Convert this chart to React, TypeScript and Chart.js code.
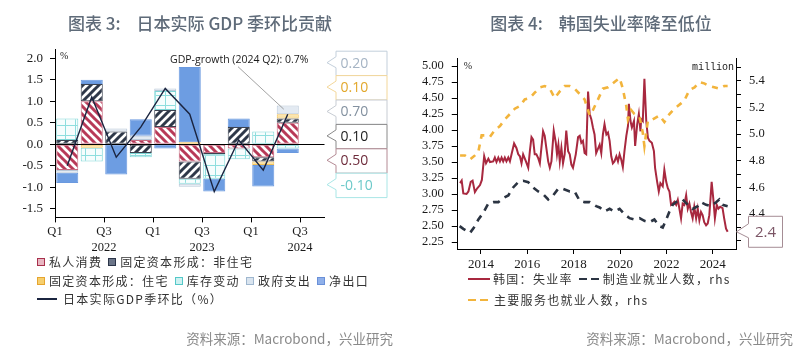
import React, { useEffect, useRef } from "react";
import { Chart, registerables } from "chart.js";
Chart.register(...registerables);

// ---------------- Left chart: Japan real GDP q/q contributions ----------------
const quarterLabels = ["2022Q1", "2022Q2", "2022Q3", "2022Q4", "2023Q1", "2023Q2", "2023Q3", "2023Q4", "2024Q1", "2024Q2"];
const privateConsumption = [-0.6, 1.0, 0, 0.1, 0.4, -0.4, -0.2, -0.1, -0.3, 0.5];
const nonResidentialInv = [0.1, 0.4, 0.3, -0.2, 0.4, -0.4, -0.03, 0.4, -0.1, 0.1];
const residentialInv = [0, -0.08, 0, 0, 0, 0.05, 0, 0, -0.08, 0.1];
const inventoryChange = [0.5, -0.32, 0, -0.1, 0.44, -0.12, -0.57, -0.25, 0.3, -0.1];
const governmentSpending = [-0.06, 0, 0.07, 0.1, 0.06, -0.07, 0, 0, 0, 0.2];
const netExports = [-0.24, 0.1, -0.7, 0.38, -0.1, 1.75, -0.3, 0.2, -0.5, -0.1];
const gdpGrowth = [-0.5, 1.1, -0.3, 0.4, 1.3, 0.7, -1.1, 0.1, -0.6, 0.7];

const leftXTickValues = [0, 2, 4, 6, 8, 10];
const leftXLabels: (string | string[])[] = ["Q1", ["Q3", "2022"], "Q1", ["Q3", "2023"], "Q1", ["Q3", "2024"]];
const leftYTicks = [-1.5, -1.0, -0.5, 0, 0.5, 1.0, 1.5, 2.0];
const calloutTexts = ["0.20", "0.10", "0.70", "0.10", "0.50", "-0.10"];
const annotationText = "GDP-growth (2024 Q2): 0.7%";
const leftLegendRow1 = ["私人消费", "固定资本形成：非住宅"];
const leftLegendRow2 = ["固定资本形成：住宅", "库存变动", "政府支出", "净出口"];
const gdpLegendLabel = "日本实际GDP季环比（%）";

// ---------------- Right chart: Korea unemployment ----------------
const unempDates = [
  2013.10, 2013.17, 2013.24, 2013.38, 2013.46, 2013.56, 2013.64, 2013.74, 2013.84, 2013.96,
  2014.04, 2014.14, 2014.22, 2014.32, 2014.39, 2014.53, 2014.60, 2014.67, 2014.75, 2014.82,
  2014.89, 2014.96, 2015.03, 2015.10, 2015.18, 2015.25, 2015.32, 2015.43, 2015.53, 2015.61,
  2015.68, 2015.75, 2015.82, 2015.94, 2016.04, 2016.11, 2016.18, 2016.25, 2016.32, 2016.39,
  2016.47, 2016.54, 2016.68, 2016.75, 2016.82, 2016.90, 2016.97, 2017.04, 2017.14, 2017.23,
  2017.28, 2017.34, 2017.40, 2017.47, 2017.54, 2017.61, 2017.68, 2017.76, 2017.83, 2017.90,
  2017.97, 2018.09, 2018.19, 2018.26, 2018.33, 2018.40, 2018.47, 2018.54, 2018.62, 2018.69,
  2018.76, 2018.83, 2018.90, 2018.97, 2019.12, 2019.19, 2019.26, 2019.33, 2019.41, 2019.48,
  2019.55, 2019.62, 2019.69, 2019.76, 2019.84, 2019.91, 2019.98, 2020.05, 2020.12, 2020.19,
  2020.27, 2020.34, 2020.38, 2020.45, 2020.51, 2020.60, 2020.65, 2020.74, 2020.81, 2020.88,
  2020.91, 2020.98, 2021.05, 2021.13, 2021.20, 2021.27, 2021.37, 2021.46, 2021.51, 2021.60,
  2021.67, 2021.74, 2021.84, 2021.91, 2021.99, 2022.06, 2022.13, 2022.20, 2022.27, 2022.34,
  2022.42, 2022.49, 2022.56, 2022.63, 2022.70, 2022.77, 2022.85, 2022.92, 2022.99, 2023.06,
  2023.13, 2023.20, 2023.28, 2023.35, 2023.42, 2023.49, 2023.56, 2023.63, 2023.71, 2023.78,
  2023.85, 2023.95, 2024.02, 2024.09, 2024.17, 2024.24, 2024.32, 2024.42, 2024.49, 2024.57,
  2024.64,
];
const unempRate = [
  3.17, 3.21, 3.01, 3.00, 3.04, 3.19, 3.21, 3.03, 3.09, 3.14,
  3.22, 3.59, 3.48, 3.55, 3.50, 3.51, 3.57, 3.50, 3.57, 3.51,
  3.57, 3.51, 3.57, 3.51, 3.57, 3.51, 3.62, 3.79, 3.72, 3.62,
  3.59, 3.48, 3.62, 3.51, 3.41, 3.67, 3.89, 3.85, 3.62, 3.62,
  3.56, 3.48, 3.98, 3.91, 3.72, 3.51, 3.41, 3.51, 3.99, 3.80,
  3.62, 3.77, 3.51, 3.72, 3.48, 3.62, 3.99, 3.67, 3.62, 3.46,
  3.41, 3.62, 3.89, 3.91, 3.80, 3.83, 3.64, 3.62, 4.60, 4.25,
  4.17, 4.04, 3.93, 3.64, 3.77, 3.64, 3.93, 4.09, 3.93, 3.96,
  3.83, 3.59, 3.48, 3.51, 3.59, 3.51, 3.62, 3.54, 3.42, 3.67,
  3.91, 4.06, 4.41, 4.14, 4.04, 4.14, 3.75, 4.09, 4.25, 3.98,
  4.17, 4.14, 4.80, 4.14, 3.88, 3.83, 3.80, 3.67, 3.41, 3.19,
  3.04, 3.17, 3.12, 3.38, 3.19, 3.09, 3.04, 2.83, 2.85, 2.88,
  2.83, 2.91, 2.77, 2.62, 2.85, 2.83, 2.98, 2.77, 2.85, 2.72,
  2.62, 2.80, 2.62, 2.77, 2.59, 2.72, 2.67, 2.56, 2.51, 2.54,
  2.67, 3.19, 2.93, 2.62, 2.83, 2.77, 2.80, 2.78, 2.62, 2.46,
  2.41,
];
const mfgDates = [
  2013.08, 2013.24, 2013.53, 2013.74, 2013.89, 2014.10, 2014.32, 2014.53, 2014.75, 2014.96,
  2015.18, 2015.39, 2015.61, 2015.82, 2016.04, 2016.25, 2016.47, 2016.68, 2016.90, 2017.11,
  2017.33, 2017.54, 2017.83, 2018.04, 2018.26, 2018.47, 2018.69, 2018.97, 2019.12, 2019.33,
  2019.55, 2019.76, 2019.98, 2020.19, 2020.41, 2020.62, 2020.84, 2021.05, 2021.27, 2021.48,
  2021.70, 2021.84, 2021.99, 2022.13, 2022.27, 2022.49, 2022.70, 2022.92, 2023.13, 2023.35,
  2023.49, 2023.71, 2023.92, 2024.14, 2024.28, 2024.42, 2024.64,
];
const mfgEmployment = [
  4.31, 4.29, 4.26, 4.31, 4.36, 4.41, 4.48, 4.49, 4.49, 4.52,
  4.54, 4.60, 4.64, 4.65, 4.64, 4.60, 4.57, 4.55, 4.51, 4.54,
  4.59, 4.59, 4.57, 4.57, 4.50, 4.49, 4.49, 4.46, 4.45, 4.42,
  4.44, 4.42, 4.44, 4.40, 4.37, 4.36, 4.37, 4.35, 4.34, 4.36,
  4.31, 4.30, 4.36, 4.42, 4.47, 4.50, 4.51, 4.47, 4.44, 4.46,
  4.49, 4.47, 4.46, 4.49, 4.51, 4.47, 4.46,
];
const svcDates = [
  2013.10, 2013.31, 2013.53, 2013.74, 2013.89, 2014.03, 2014.24, 2014.39, 2014.60, 2014.82,
  2015.03, 2015.25, 2015.46, 2015.68, 2015.89, 2016.11, 2016.32, 2016.54, 2016.75, 2016.97,
  2017.18, 2017.40, 2017.61, 2017.83, 2018.04, 2018.26, 2018.47, 2018.69, 2018.83, 2019.05,
  2019.26, 2019.48, 2019.76, 2019.98, 2020.12, 2020.27, 2020.34, 2020.48, 2020.62, 2020.84,
  2020.98, 2021.05, 2021.20, 2021.41, 2021.70, 2021.91, 2022.13, 2022.34, 2022.63, 2022.77,
  2022.99, 2023.21, 2023.42, 2023.63, 2023.85, 2024.06, 2024.28, 2024.49, 2024.64,
];
const svcEmployment = [
  4.84, 4.84, 4.81, 4.84, 4.87, 4.99, 4.99, 4.98, 5.03, 5.06,
  5.11, 5.15, 5.19, 5.21, 5.26, 5.27, 5.31, 5.35, 5.36, 5.34,
  5.27, 5.32, 5.36, 5.36, 5.34, 5.30, 5.26, 5.14, 5.18, 5.26,
  5.34, 5.35, 5.39, 5.42, 5.34, 5.21, 5.11, 5.18, 5.15, 5.13,
  5.01, 4.91, 5.10, 5.11, 5.14, 5.09, 5.15, 5.19, 5.23, 5.25,
  5.33, 5.35, 5.39, 5.38, 5.36, 5.35, 5.34, 5.36, 5.36,
];
const yearTicks = [2014, 2016, 2018, 2020, 2022, 2024];
const leftAxisTicks = [2.25, 2.5, 2.75, 3.0, 3.25, 3.5, 3.75, 4.0, 4.25, 4.5, 4.75, 5.0];
const rightAxisTicks = [4.2, 4.3, 4.4, 4.5, 4.6, 4.7, 4.8, 4.9, 5.0, 5.1, 5.2, 5.3, 5.4, 5.5];
const unempLabel = "韩国：失业率";
const mfgLabel = "制造业就业人数，rhs";
const svcLabel = "主要服务也就业人数，rhs";

const sourceText = "资料来源：Macrobond，兴业研究";

const SERIF = '"Liberation Serif", "Times New Roman", serif';
const CJK = '"Noto Sans CJK SC", "Noto Sans", sans-serif';

function stripePattern(dir: "back" | "fwd", color: string, size: number, width: number) {
  const c = document.createElement("canvas");
  c.width = size;
  c.height = size;
  const g = c.getContext("2d")!;
  g.fillStyle = "#ffffff";
  g.fillRect(0, 0, size, size);
  g.strokeStyle = color;
  g.lineWidth = width;
  g.beginPath();
  for (const k of [-size, 0, size]) {
    if (dir === "back") {
      g.moveTo(k - 1, -1);
      g.lineTo(k + size + 1, size + 1);
    } else {
      g.moveTo(k - 1, size + 1);
      g.lineTo(k + size + 1, -1);
    }
  }
  g.stroke();
  return g.createPattern(c, "repeat")!;
}

function gridPattern(color: string, bg: string, size: number) {
  const c = document.createElement("canvas");
  c.width = size;
  c.height = size;
  const g = c.getContext("2d")!;
  g.fillStyle = bg;
  g.fillRect(0, 0, size, size);
  g.fillStyle = color;
  g.fillRect(Math.floor(size / 2), 0, 1, size);
  g.fillRect(0, Math.floor(size / 2), size, 1);
  return g.createPattern(c, "repeat")!;
}

function calloutPath(ctx: CanvasRenderingContext2D, x: number, y: number, w: number, h: number, tipX: number, tipY: number, nTop: number, nBot: number) {
  ctx.beginPath();
  ctx.moveTo(x, y);
  ctx.lineTo(x + w, y);
  ctx.lineTo(x + w, y + h);
  ctx.lineTo(x, y + h);
  ctx.lineTo(x, nBot);
  ctx.lineTo(tipX, tipY);
  ctx.lineTo(x, nTop);
  ctx.closePath();
}

const calloutStroke = ["#c3cfdb", "#f3d79a", "#c7ccd3", "#8a8a8a", "#b48a94", "#a9e6e6"];
const calloutColor = ["#a5b4c4", "#e2a82c", "#8391a0", "#1e1e1e", "#6e2c3c", "#6cc9c9"];

const leftDecor = {
  id: "leftDecor",
  beforeDatasetDraw(chart: any, args: any) {
    if (args.index !== 0) return;
    const { ctx, chartArea: a, scales } = chart;
    const y0 = Math.round(scales.y.getPixelForValue(0)) + 0.5;
    ctx.save();
    ctx.strokeStyle = "#000";
    ctx.lineWidth = 1.2;
    ctx.beginPath();
    ctx.moveTo(a.left, y0);
    ctx.lineTo(a.right, y0);
    ctx.stroke();
    ctx.restore();
  },
  afterDraw(chart: any) {
    const { ctx, chartArea: a, scales } = chart;
    ctx.save();
    ctx.fillStyle = "#222";
    ctx.font = `10px ${SERIF}`;
    ctx.textAlign = "left";
    ctx.textBaseline = "middle";
    ctx.fillText("%", a.left + 5, a.top + 7);

    // annotation
    const last = gdpGrowth.length - 1;
    const px = scales.x.getPixelForValue(last + 0.5);
    const py = scales.y.getPixelForValue(gdpGrowth[last]);
    ctx.font = `10.5px "Open Sans", "Liberation Sans", sans-serif`;
    ctx.fillStyle = "#1a1a1a";
    ctx.fillText(annotationText, 170, a.top + 10.5);
    ctx.strokeStyle = "#8a8a8a";
    ctx.lineWidth = 0.8;
    ctx.beginPath();
    ctx.moveTo(238, a.top + 17);
    ctx.lineTo(px - 4, py - 5);
    ctx.stroke();

    // callouts on the right
    const bx = a.right + 11;
    const bw = 51;
    const bh = 24.4;
    const top0 = a.top + 1;
    ctx.font = `14px "Open Sans", "Liberation Sans", sans-serif`;
    calloutTexts.forEach((t, i) => {
      const y = top0 + i * bh;
      ctx.fillStyle = "#fff";
      ctx.strokeStyle = calloutStroke[i];
      ctx.lineWidth = 1;
      calloutPath(ctx, bx + 0.5, y + 0.5, bw, bh, a.right + 2.5, y + 12, y + 6, y + 17);
      ctx.fill();
      ctx.stroke();
      ctx.fillStyle = calloutColor[i];
      ctx.textAlign = "left";
      ctx.fillText(t, bx + 5, y + 13);
    });
    ctx.restore();
  },
};

const rightDecor = {
  id: "rightDecor",
  afterDraw(chart: any) {
    const { ctx, chartArea: a, scales } = chart;
    ctx.save();
    ctx.fillStyle = "#222";
    ctx.textBaseline = "middle";
    ctx.font = `10px ${SERIF}`;
    ctx.textAlign = "left";
    ctx.fillText("%", a.left + 6, a.top + 8);
    ctx.font = `10px "Liberation Mono", "DejaVu Sans Mono", monospace`;
    ctx.textAlign = "right";
    ctx.fillText("million", a.right - 2, scales.y1.getPixelForValue(5.5));

    const lastVal = unempRate[unempRate.length - 1];
    const ty = scales.y.getPixelForValue(lastVal);
    const x0 = a.right + 12;
    ctx.fillStyle = "#fff";
    ctx.strokeStyle = "#a58d95";
    ctx.lineWidth = 1;
    calloutPath(ctx, x0 + 0.5, ty - 15.5, 34, 31, a.right + 0.5, ty, ty - 8, ty + 6);
    ctx.fill();
    ctx.stroke();
    ctx.fillStyle = "#7b5565";
    ctx.font = `15px "Open Sans", "Liberation Sans", sans-serif`;
    ctx.textAlign = "center";
    ctx.fillText(lastVal.toFixed(1), x0 + 17.5, ty + 1);
    ctx.restore();
  },
};

function LegendBox({ border, fill }: { border: string; fill: string }) {
  return (
    <span
      style={{
        display: "inline-block",
        width: 6,
        height: 6,
        border: `1.5px solid ${border}`,
        background: fill,
        marginRight: 4,
        verticalAlign: "middle",
      }}
    />
  );
}

const leftLegendRow1Style = [
  { border: "#a8304c", fill: "#e8b7c2" },
  { border: "#2a3448", fill: "#6b7588" },
];
const leftLegendRow2Style = [
  { border: "#e6a52f", fill: "#f6cf6e" },
  { border: "#54c8c8", fill: "#cdf1f1" },
  { border: "#9fb7cf", fill: "#d9e4ef" },
  { border: "#6a90d8", fill: "#8fb0ea" },
];

export default function App() {
  const leftRef = useRef<HTMLCanvasElement>(null);
  const rightRef = useRef<HTMLCanvasElement>(null);

  useEffect(() => {
    const privPat = stripePattern("back", "#b83a58", 8, 3);
    const nonresPat = stripePattern("fwd", "#2e3849", 8, 3);
    const invPat = gridPattern("#8edede", "#f6fdfd", 10);

    const toPts = (arr: number[]) => arr.map((v, i) => ({ x: i + 0.5, y: v === 0 ? null : v }));
    const barCommon = {
      type: "bar" as const,
      stack: "s",
      order: 1,
      borderWidth: 1,
      borderSkipped: false,
      barPercentage: 0.9,
      categoryPercentage: 1,
    };

    const left = new Chart(leftRef.current!, {
      type: "bar",
      data: {
        datasets: [
          {
            type: "line",
            label: "GDP",
            data: gdpGrowth.map((v, i) => ({ x: i + 0.5, y: v })),
            borderColor: "#1b2540",
            borderWidth: 1.4,
            pointRadius: 0,
            tension: 0,
            order: 0,
          } as any,
          { ...barCommon, label: "私人消费", data: toPts(privateConsumption), backgroundColor: privPat, borderColor: "#c46a80" },
          { ...barCommon, label: "非住宅", data: toPts(nonResidentialInv), backgroundColor: nonresPat, borderColor: "#3b4250" },
          { ...barCommon, label: "住宅", data: toPts(residentialInv), backgroundColor: "#fbe3a6", borderColor: "#f2c25a" },
          { ...barCommon, label: "库存变动", data: toPts(inventoryChange), backgroundColor: invPat, borderColor: "#7fd6d6" },
          { ...barCommon, label: "政府支出", data: toPts(governmentSpending), backgroundColor: "#e3eaf2", borderColor: "#b9c8d8" },
          { ...barCommon, label: "净出口", data: toPts(netExports), backgroundColor: "#6d9de2", borderColor: "#6a99df" },
        ] as any,
      },
      options: {
        responsive: false,
        animation: false,
        events: [],
        layout: { padding: { left: 0, right: 75.5, top: 49.7, bottom: 0 } },
        plugins: { legend: { display: false }, tooltip: { enabled: false } },
        scales: {
          x: {
            type: "linear",
            min: 0,
            max: 11,
            offset: false,
            stacked: true,
            afterBuildTicks: (s: any) => {
              s.ticks = leftXTickValues.map((v) => ({ value: v }));
            },
            afterFit: (s: any) => {
              s.height = 357 - 217.4;
            },
            grid: { display: true, offset: false, drawOnChartArea: false, drawTicks: true, tickLength: 5, color: "#000", tickColor: "#000" },
            border: { display: true, color: "#000", width: 1 },
            ticks: {
              autoSkip: false,
              maxRotation: 0,
              padding: 1,
              color: "#1a1a1a",
              font: { family: SERIF, size: 12.5, lineHeight: 1.3 },
              callback: (v: any) => {
                const i = leftXTickValues.indexOf(Number(v));
                return i >= 0 ? leftXLabels[i] : "";
              },
            },
          } as any,
          y: {
            type: "linear",
            min: -1.7,
            max: 2.2,
            stacked: true,
            afterBuildTicks: (s: any) => {
              s.ticks = leftYTicks.map((v) => ({ value: v }));
            },
            afterFit: (s: any) => {
              s.width = 55;
            },
            grid: { drawOnChartArea: false, tickLength: 5, color: "#000", tickColor: "#000" },
            border: { display: true, color: "#000", width: 1 },
            ticks: {
              autoSkip: false,
              padding: 7,
              color: "#1a1a1a",
              font: { family: SERIF, size: 13 },
              callback: (v: any) => Number(v).toFixed(1),
            },
          } as any,
        },
      },
      plugins: [leftDecor],
    });

    const right = new Chart(rightRef.current!, {
      type: "line",
      data: {
        datasets: [
          {
            label: svcLabel,
            data: svcDates.map((d, i) => ({ x: d, y: svcEmployment[i] })),
            yAxisID: "y1",
            borderColor: "#f2b43c",
            borderWidth: 2.6,
            borderDash: [6, 6],
            pointRadius: 0,
            tension: 0,
          },
          {
            label: mfgLabel,
            data: mfgDates.map((d, i) => ({ x: d, y: mfgEmployment[i] })),
            yAxisID: "y1",
            borderColor: "#2b3442",
            borderWidth: 2.6,
            borderDash: [7, 6],
            pointRadius: 0,
            tension: 0,
          },
          {
            label: unempLabel,
            data: unempDates.map((d, i) => ({ x: d, y: unempRate[i] })),
            yAxisID: "y",
            borderColor: "#a8283f",
            borderWidth: 2,
            pointRadius: 0,
            tension: 0,
          },
        ],
      },
      options: {
        responsive: false,
        animation: false,
        events: [],
        layout: { padding: { left: 0, right: 0, top: 58, bottom: 0 } },
        plugins: { legend: { display: false }, tooltip: { enabled: false } },
        scales: {
          x: {
            type: "linear",
            min: 2013,
            max: 2025,
            afterBuildTicks: (s: any) => {
              s.ticks = yearTicks.map((v) => ({ value: v }));
            },
            afterFit: (s: any) => {
              s.height = 108;
            },
            grid: { drawOnChartArea: false, tickLength: 5, color: "#000", tickColor: "#000" },
            border: { display: true, color: "#000" },
            ticks: {
              padding: 3,
              maxRotation: 0,
              autoSkip: false,
              color: "#1a1a1a",
              font: { family: SERIF, size: 13 },
              callback: (v: any) => String(v),
            },
          } as any,
          y: {
            type: "linear",
            position: "left",
            min: 2.141,
            max: 5.125,
            afterBuildTicks: (s: any) => {
              s.ticks = leftAxisTicks.map((v) => ({ value: v }));
            },
            afterFit: (s: any) => {
              s.width = 57.75;
            },
            grid: { drawOnChartArea: false, tickLength: 6, color: "#000", tickColor: "#000" },
            border: { display: true, color: "#000" },
            ticks: {
              autoSkip: false,
              padding: 8,
              color: "#1a1a1a",
              font: { family: SERIF, size: 12.5 },
              callback: (v: any) => Number(v).toFixed(2),
            },
          } as any,
          y1: {
            type: "linear",
            position: "right",
            min: 4.139,
            max: 5.57,
            afterBuildTicks: (s: any) => {
              s.ticks = rightAxisTicks.map((v) => ({ value: v }));
            },
            afterFit: (s: any) => {
              s.width = 64;
            },
            grid: { drawOnChartArea: false, tickLength: 5, color: "#000", tickColor: "#000" },
            border: { display: true, color: "#000" },
            ticks: {
              autoSkip: false,
              padding: 8,
              color: "#1a1a1a",
              font: { family: SERIF, size: 12.5 },
              callback: (v: any) => {
                const n = Math.round(Number(v) * 10);
                return n % 2 === 0 ? (n / 10).toFixed(1) : "";
              },
            },
          } as any,
        },
      },
      plugins: [rightDecor],
    });

    return () => {
      left.destroy();
      right.destroy();
    };
  }, []);

  const titleStyle = (left: number, width: number): React.CSSProperties => ({
    position: "absolute",
    left,
    width,
    top: 11,
    textAlign: "center",
    fontFamily: CJK,
    fontSize: 17,
    fontWeight: 500,
    color: "#5f6b79",
    lineHeight: "24px",
    whiteSpace: "nowrap",
  });
  const legendRow = (left: number, top: number): React.CSSProperties => ({
    position: "absolute",
    left,
    top,
    fontFamily: CJK,
    fontSize: 12,
    letterSpacing: 1.3,
    lineHeight: "14px",
    color: "#333",
    whiteSpace: "nowrap",
    display: "flex",
    alignItems: "center",
  });
  const sourceStyle = (right: number): React.CSSProperties => ({
    position: "absolute",
    right,
    top: 329,
    fontFamily: CJK,
    fontSize: 13.5,
    color: "#8a8a8a",
    whiteSpace: "nowrap",
    lineHeight: "18px",
  });
  const dash = (color: string, w: number): React.CSSProperties => ({
    display: "inline-block",
    width: w,
    height: 2.5,
    background: color,
    marginRight: 4,
  });

  return (
    <div
      style={{
        position: "absolute",
        left: 0,
        top: 0,
        width: 800,
        height: 357,
        background: "#fff",
        overflow: "hidden",
      }}
    >
      <canvas ref={leftRef} width={400} height={357} style={{ position: "absolute", left: 0, top: 0 }} />
      <canvas ref={rightRef} width={400} height={357} style={{ position: "absolute", left: 400, top: 0 }} />

      <div style={titleStyle(0, 400)}>
        <span style={{ marginRight: 16 }}>图表 3:</span>日本实际 GDP 季环比贡献
      </div>
      <div style={titleStyle(400, 402)}>
        <span style={{ marginRight: 16 }}>图表 4:</span>韩国失业率降至低位
      </div>

      {/* left legend */}
      <div style={legendRow(37, 255)}>
        {leftLegendRow1.map((t, i) => (
          <span key={t} style={{ display: "inline-flex", alignItems: "center", marginRight: 6 }}>
            <LegendBox {...leftLegendRow1Style[i]} />
            {t}
          </span>
        ))}
      </div>
      <div style={legendRow(37, 274)}>
        {leftLegendRow2.map((t, i) => (
          <span key={t} style={{ display: "inline-flex", alignItems: "center", marginRight: 6 }}>
            <LegendBox {...leftLegendRow2Style[i]} />
            {t}
          </span>
        ))}
      </div>
      <div style={legendRow(37, 292)}>
        <span style={{ display: "inline-block", width: 20, height: 1.5, background: "#1b2540", marginRight: 6 }} />
        {gdpLegendLabel}
      </div>

      {/* right legend */}
      <div style={legendRow(468, 272)}>
        <span style={{ display: "inline-block", width: 22, height: 2.5, background: "#a8283f", marginRight: 3 }} />
        <span style={{ marginRight: 6 }}>{unempLabel}</span>
        <span style={dash("#2b3442", 8)} />
        <span style={dash("#2b3442", 8)} />
        <span>{mfgLabel}</span>
      </div>
      <div style={legendRow(468, 293)}>
        <span style={dash("#f2b43c", 8)} />
        <span style={dash("#f2b43c", 8)} />
        <span style={{ marginLeft: 2 }}>{svcLabel}</span>
      </div>

      <div style={sourceStyle(407)}>{sourceText}</div>
      <div style={sourceStyle(7)}>{sourceText}</div>
    </div>
  );
}
